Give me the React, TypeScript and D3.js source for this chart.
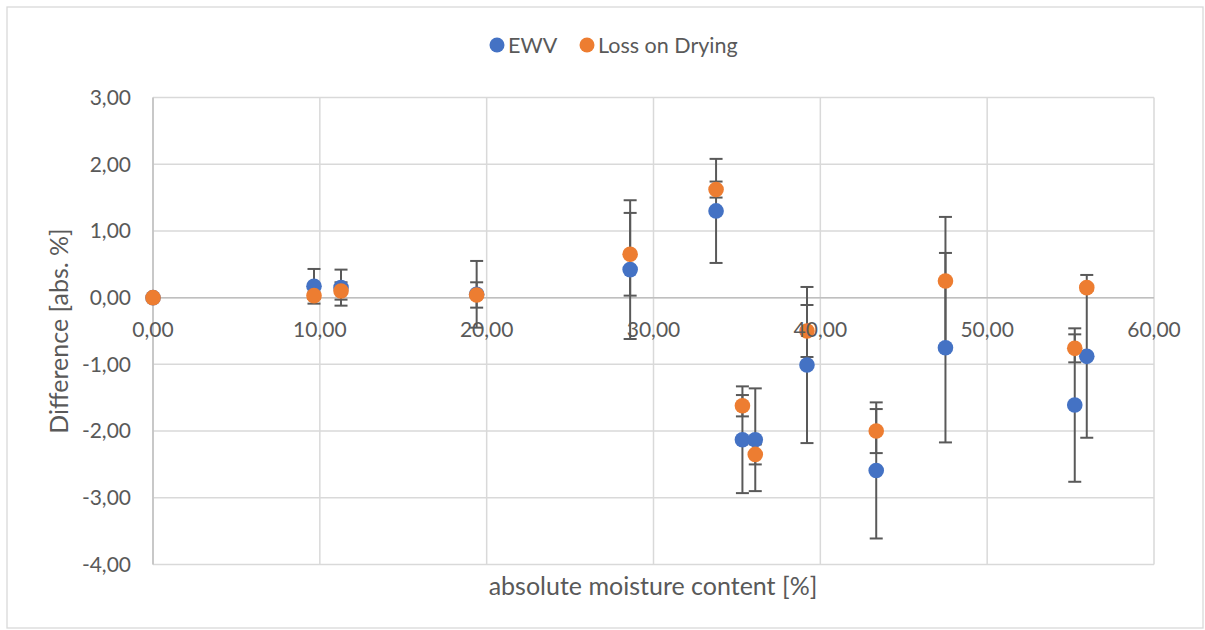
import React from "react";
import * as d3 from "d3";

const moisture = [0, 9.65, 11.27, 19.4, 28.6, 33.75, 35.33, 36.1, 39.2, 43.35, 47.5, 55.25, 55.97];
const ewv = [0, 0.17, 0.15, 0.05, 0.42, 1.3, -2.13, -2.13, -1.01, -2.59, -0.75, -1.61, -0.88];
const ewvErr = [0, 0.26, 0.27, 0.5, 1.04, 0.78, 0.8, 0.77, 1.17, 1.02, 1.42, 1.15, 1.22];
const lod = [0, 0.03, 0.1, 0.04, 0.65, 1.62, -1.62, -2.35, -0.5, -2.0, 0.25, -0.76, 0.15];
const lodErr = [0, 0.05, 0.13, 0.19, 0.62, 0.12, 0.16, 0.15, 0.39, 0.33, 0.96, 0.21, 0.05];

const xTicks = [0, 10, 20, 30, 40, 50, 60];
const yTicks = [3, 2, 1, 0, -1, -2, -3, -4];

const seriesNames = ["EWV", "Loss on Drying"];
const colors = ["#4472C4", "#ED7D31"];

const W = 1205;
const H = 630;
const FONT = "Lato, 'Open Sans', sans-serif";
const fmt = (v: number) => d3.format(".2f")(v).replace(".", ",").replace("−", "-");

export default function App() {
  const x = d3.scaleLinear().domain([0, 60]).range([153, 1154]);
  const y = d3.scaleLinear().domain([-4, 3]).range([564.5, 97.5]);

  const series = [
    { name: seriesNames[0], vals: ewv, err: ewvErr, color: colors[0] },
    { name: seriesNames[1], vals: lod, err: lodErr, color: colors[1] },
  ];

  const cap = 6.5;

  return (
    <svg
      width={W}
      height={H}
      style={{ position: "absolute", left: 0, top: 0, background: "#fff" }}
      fontFamily={FONT}
    >
      <rect x={7} y={7} width={1196} height={621} fill="#fff" stroke="#d9d9d9" strokeWidth={1.3} />
      {/* gridlines */}
      {yTicks.map((t) => (
        <line key={"gy" + t} x1={x(0)} x2={x(60)} y1={y(t)} y2={y(t)} stroke="#d9d9d9" strokeWidth={1.5} />
      ))}
      {xTicks.map((t) => (
        <line key={"gx" + t} x1={x(t)} x2={x(t)} y1={y(3)} y2={y(-4)} stroke="#d9d9d9" strokeWidth={1.5} />
      ))}
      {/* axes */}
      <line x1={x(0)} x2={x(60)} y1={y(0)} y2={y(0)} stroke="#bfbfbf" strokeWidth={1.5} />
      <line x1={x(0)} x2={x(0)} y1={y(3)} y2={y(-4)} stroke="#bfbfbf" strokeWidth={1.5} />
      {/* error bars */}
      {series.map((s, si) =>
        moisture.map((m, i) => {
          if (!s.err[i]) return null;
          const cx = x(m);
          const yt = y(s.vals[i] + s.err[i]);
          const yb = y(s.vals[i] - s.err[i]);
          return (
            <g key={"e" + si + "-" + i} stroke="#595959" strokeWidth={2}>
              <line x1={cx} x2={cx} y1={yt} y2={yb} />
              <line x1={cx - cap} x2={cx + cap} y1={yt} y2={yt} />
              <line x1={cx - cap} x2={cx + cap} y1={yb} y2={yb} />
            </g>
          );
        })
      )}
      {/* markers */}
      {series.map((s, si) =>
        moisture.map((m, i) => (
          <circle key={"m" + si + "-" + i} cx={x(m)} cy={y(s.vals[i])} r={7.8} fill={s.color} />
        ))
      )}
      {/* y tick labels */}
      {yTicks.map((t) => (
        <text key={"ty" + t} x={131} y={y(t)} dy="0.35em" textAnchor="end" fontSize={21} fill="#595959">
          {fmt(t)}
        </text>
      ))}
      {/* x tick labels */}
      {xTicks.map((t) => (
        <text key={"tx" + t} x={x(t)} y={337} textAnchor="middle" fontSize={21} fill="#595959">
          {fmt(t)}
        </text>
      ))}
      {/* axis titles */}
      <text x={653} y={595} textAnchor="middle" fontSize={25} fill="#595959">
        absolute moisture content [%]
      </text>
      <text
        transform={`translate(68, ${(y(3) + y(-4)) / 2}) rotate(-90)`}
        textAnchor="middle"
        fontSize={25}
        fill="#595959"
      >
        Difference [abs. %]
      </text>
      {/* legend */}
      <g>
        <circle cx={497} cy={45} r={7.5} fill={colors[0]} />
        <text x={508} y={45} dy="0.35em" fontSize={21.5} fill="#595959">
          {seriesNames[0]}
        </text>
        <circle cx={587} cy={45} r={7.5} fill={colors[1]} />
        <text x={598} y={45} dy="0.35em" fontSize={21.5} fill="#595959">
          {seriesNames[1]}
        </text>
      </g>
    </svg>
  );
}
